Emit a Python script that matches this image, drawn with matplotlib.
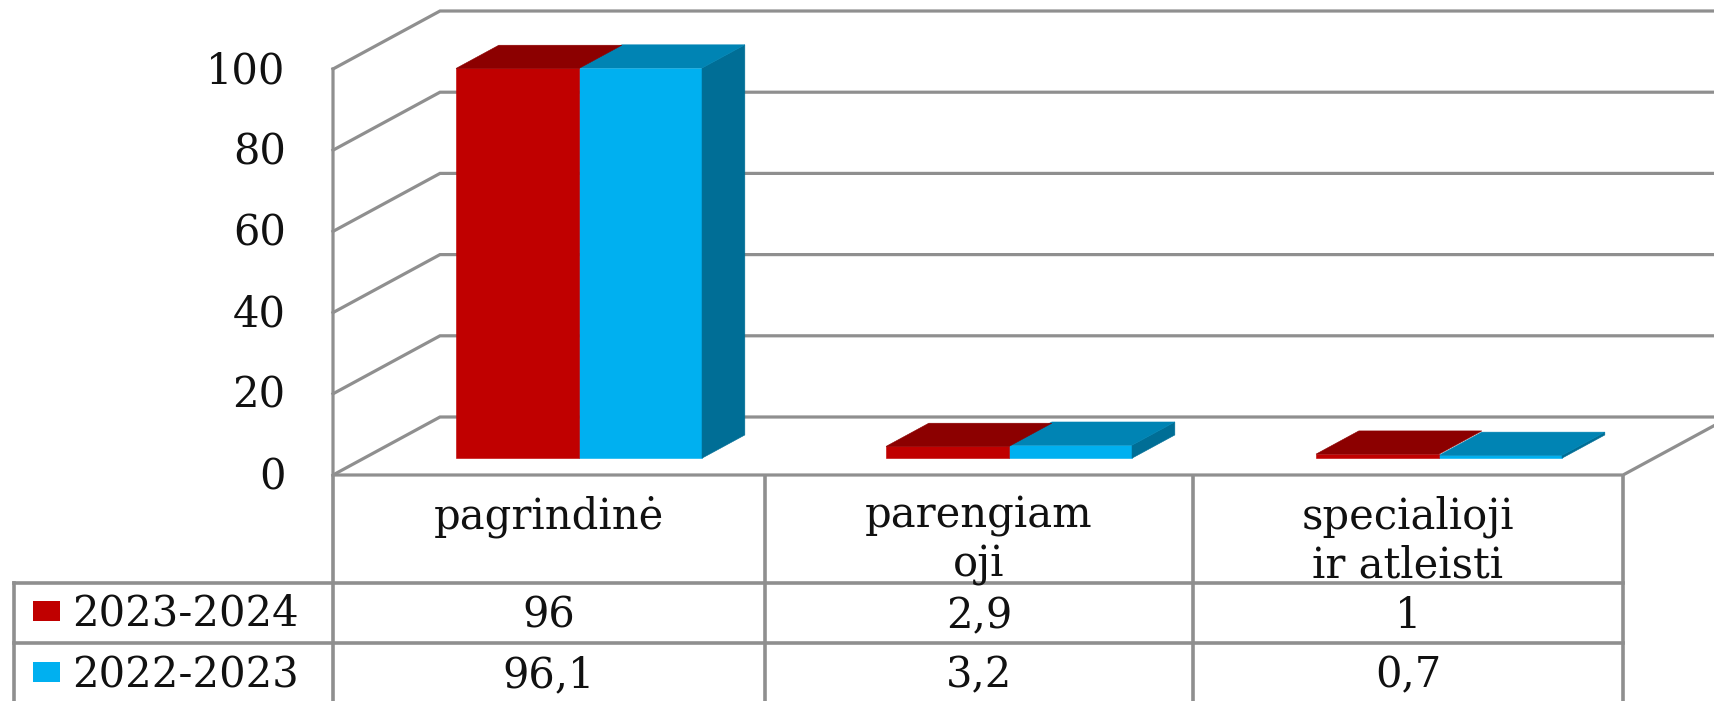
import matplotlib.pyplot as plt
from matplotlib.patches import Rectangle

categories = ["pagrindinė", "parengiam\noji", "specialioji\nir atleisti"]
series_names = ["2023-2024", "2022-2023"]
values_2324 = [96, 2.9, 1]
values_2223 = [96.1, 3.2, 0.7]
labels_2324 = ["96", "2,9", "1"]
labels_2223 = ["96,1", "3,2", "0,7"]
y_ticks = [0, 20, 40, 60, 80, 100]

W, H = 1715, 701
GRID = "#8F8F8F"
RED, RED_TOP = "#C00000", "#8C0000"
BLUE, BLUE_TOP, BLUE_SIDE = "#00B0F0", "#0084B4", "#006E96"
FONT = "DejaVu Serif"
FS = 30
INK = "#111111"

# front plane of the 3d box in pixels
LEFT, RIGHT, BASE, TOP = 333, 1623, 475, 69
CAT_W = (RIGHT - LEFT) / 3
PX_UNIT = (BASE - TOP) / 100
# full box depth as data offsets
DX = 107 / CAT_W
DY = 58 / PX_UNIT
BAR_W = 123 / CAT_W
D0, D1 = 0.29, 0.69

fig = plt.figure(figsize=(W / 100, H / 100), dpi=100)
ax = fig.add_axes([LEFT / W, 1 - BASE / H, (RIGHT - LEFT) / W, (BASE - TOP) / H])
ax.set_xlim(-0.5, 2.5)
ax.set_ylim(0, 100)
ax.axis("off")

tab = fig.add_axes([0, 0, 1, 1], zorder=-1)
tab.set_xlim(0, W)
tab.set_ylim(H, 0)
tab.axis("off")


def pr(x, v, d):
    return x + d * DX, v + d * DY


def wall_line(pts):
    xs, ys = zip(*[pr(*p) for p in pts])
    ax.plot(xs, ys, color=GRID, lw=2.3, clip_on=False, zorder=1, solid_joinstyle="miter")


# walls and gridlines
x_l, x_r = -0.5, 2.5
for t in y_ticks:
    wall_line([(x_l, t, 0), (x_l, t, 1), (x_r + 0.2, t, 1)])
    ax.text(x_l - 0.11, t - 0.5, str(t), ha="right", va="center",
            family=FONT, fontsize=FS, color=INK)
wall_line([(x_l, 100, 0), (x_l, 0, 0), (x_r, 0, 0), (x_r, 0, 1)])


def draw_bars(vals, offset, color, top_color, z):
    for i, v in enumerate(vals):
        x0 = i + offset * BAR_W
        x1 = x0 + BAR_W
        fx, fy = pr(x0, 0, D0)
        ax.bar(fx, v, BAR_W, bottom=fy, align="edge", color=color, zorder=z,
               clip_on=False, edgecolor=color, lw=0.4)
        top = [pr(x0, v, D0), pr(x1, v, D0), pr(x1, v, D1), pr(x0, v, D1)]
        ax.fill(*zip(*top), facecolor=top_color, edgecolor=top_color, lw=0.4,
                zorder=z + 0.5, clip_on=False)


draw_bars(values_2223, 0, BLUE, BLUE_TOP, 3)
draw_bars(values_2324, -1, RED, RED_TOP, 4)

# side face of the right hand bars
for i, v in enumerate(values_2223):
    x1 = i + BAR_W
    side = [pr(x1, 0, D0), pr(x1, v, D0), pr(x1, v, D1), pr(x1, 0, D1)]
    ax.fill(*zip(*side), facecolor=BLUE_SIDE, edgecolor=BLUE_SIDE, lw=0.4,
            zorder=3, clip_on=False)

# data table under the chart
col_x = [333, 765, 1193, 1623]
row_y = [583, 643]
for x in col_x:
    tab.plot([x, x], [475, H], color=GRID, lw=2.6, solid_capstyle="butt")
tab.plot([14, 14], [583, H], color=GRID, lw=2.6)
for y in row_y:
    tab.plot([14, 1623], [y, y], color=GRID, lw=2.6)

for i, cat in enumerate(categories):
    cx = (col_x[i] + col_x[i + 1]) / 2
    tab.text(cx, 495, cat, ha="center", va="top", family=FONT, fontsize=FS,
             linespacing=1.2, color=INK)
    tab.text(cx, 616, labels_2324[i], ha="center", va="center", family=FONT,
             fontsize=FS, color=INK)
    tab.text(cx, 675, labels_2223[i], ha="center", va="center", family=FONT,
             fontsize=FS, color=INK)

for name, y, c in zip(series_names, [611, 672], [RED, BLUE]):
    tab.add_patch(Rectangle((33, y - 10), 27, 20, color=c, lw=0))
    tab.text(72, y + 3, name, ha="left", va="center", family=FONT, fontsize=FS,
             color=INK)

fig.savefig("out.png", dpi=100)
